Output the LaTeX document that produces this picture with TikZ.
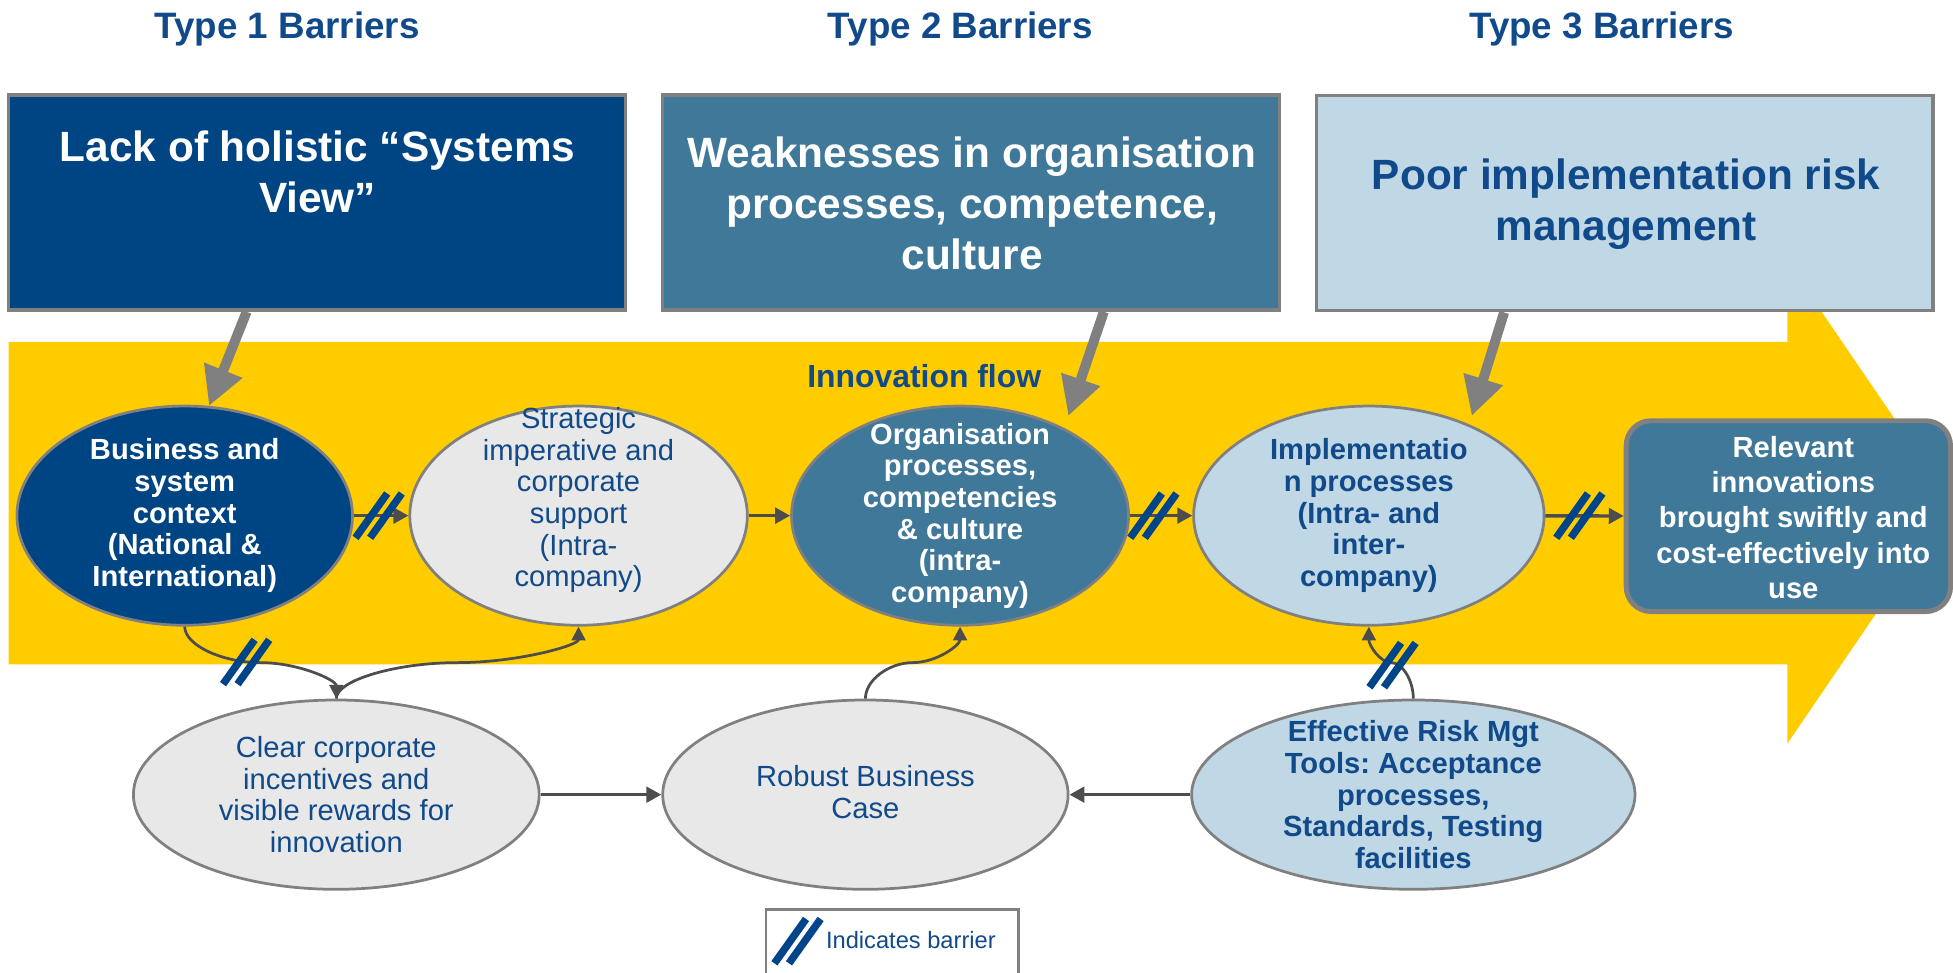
\documentclass[tikz,border=0pt]{standalone}
\usepackage{fontspec}
\setmainfont{Liberation Sans}
\usetikzlibrary{shapes.geometric,arrows.meta,calc}
\frenchspacing

\definecolor{flowyellow}{HTML}{FFCC00}
\definecolor{navy}{HTML}{004583}
\definecolor{steel}{HTML}{3F7898}
\definecolor{pale}{HTML}{C0D7E5}
\definecolor{mist}{HTML}{E8E8E8}
\definecolor{rim}{HTML}{808080}
\definecolor{ink}{HTML}{104A8A}
\definecolor{wire}{HTML}{4D4D4D}
\definecolor{markblue}{HTML}{00458A}

\tikzset{
  bigbox/.style={rectangle, draw=rim, line width=2.7pt, minimum width=495pt,
    minimum height=172.7pt, inner sep=0pt},
  oval/.style={ellipse, draw=rim, line width=2.2pt, inner sep=0pt, minimum height=176pt},
  result/.style={rectangle, rounded corners=20pt, draw=rim, line width=4pt, fill=steel,
    minimum width=260.4pt, minimum height=153.2pt, inner sep=0pt},
  headtext/.style={align=center, inner sep=0pt, font=\fontsize{34}{41}\selectfont\bfseries},
  titletext/.style={inner sep=0pt, text=ink, font=\fontsize{29.5}{35}\selectfont\bfseries},
  flowtext/.style={inner sep=0pt, text=ink, font=\fontsize{25.6}{30}\selectfont\bfseries},
  bodytext/.style={align=center, inner sep=0pt, font=\fontsize{23.4}{25.4}\selectfont},
  bodybold/.style={align=center, inner sep=0pt, font=\fontsize{23.4}{25.4}\selectfont\bfseries},
  resulttext/.style={align=center, inner sep=0pt, text=white,
    font=\fontsize{23.4}{28.3}\selectfont\bfseries},
  legendbox/.style={rectangle, draw=rim, line width=2.2pt, minimum width=202.5pt,
    minimum height=80pt, inner sep=0pt},
  legendtext/.style={inner sep=0pt, text=ink, font=\fontsize{19}{23}\selectfont},
  flowline/.style={draw=wire, line width=2.7pt, -{Triangle[length=12pt,width=12.5pt]}},
  curveline/.style={draw=wire, line width=2.2pt, -{Triangle[length=11pt,width=11pt]}},
  blockarrow/.style={draw=rim, line width=8pt, -{Triangle[length=31pt,width=31pt]}},
  barline/.style={draw=markblue, line width=6pt},
  barrier/.pic={
    \draw[barline] (-18.55,17.8) -- (6.85,-17.8);
    \draw[barline] (-6.85,17.8) -- (18.55,-17.8);
  }
}

\begin{document}
\begin{tikzpicture}[x=1pt,y=-1pt]
\useasboundingbox (0,0) rectangle (1568,781);

% the broad yellow flow arrow
\fill[flowyellow] (7,274.5) -- (1435,274.5) -- (1435,210) -- (1567,403.5)
  -- (1435,597) -- (1435,533.3) -- (7,533.3) -- cycle;

% barrier type headings
\node[titletext] (ty1) at (230.5,23) {Type 1 Barriers};
\node[titletext] (ty2) at (771,23) {Type 2 Barriers};
\node[titletext] (ty3) at (1286,23) {Type 3 Barriers};

% barrier boxes
\node[bigbox, fill=navy] (box1) at (254.5,162.65) {};
\node[bigbox, fill=steel] (box2) at (779.5,162.65) {};
\node[bigbox, fill=pale] (box3) at (1304.5,163.15) {};
\node[headtext, text=white] (h1) at (255,138) {Lack of holistic “Systems\\View”};
\node[headtext, text=white] (h2) at (780.5,163) {Weaknesses in organisation\\processes, competence,\\culture};
\node[headtext, text=ink] (h3) at (1305.5,164) {Poor implementation risk\\management};

\node[flowtext] (flow) at (742,302) {Innovation flow};

% main flow stages
\node[oval, fill=navy, minimum width=269.4pt] (e1) at (148.3,414) {};
\node[oval, fill=mist, minimum width=271pt] (e2) at (464.5,414) {};
\node[oval, fill=steel, minimum width=270.6pt] (e3) at (770.8,414) {};
\node[oval, fill=pale, minimum width=281.4pt] (e4) at (1099,414) {};
\node[result] (goal) at (1435.8,414.4) {};

% supporting factors
\node[oval, fill=mist, minimum width=325.8pt, minimum height=152pt] (b1) at (270,638) {};
\node[oval, fill=mist, minimum width=325.5pt, minimum height=152pt] (b2) at (694.8,638) {};
\node[oval, fill=pale, minimum width=356pt, minimum height=152pt] (b3) at (1134.7,638) {};

% grey arrows from the barrier boxes
\draw[blockarrow] ($(box1.south)+(-56.5,0)$) -- ($(e1.center)+(19.5,-88)$);
\draw[blockarrow] ($(box2.south)+(106.7,0)$) -- ($(e3.center)+(86.9,-80)$);
\draw[blockarrow] ($(box3.south)+(-96.9,0)$) -- ($(e4.center)+(82.6,-80)$);

% straight connectors
\draw[flowline] (e1) -- (e2);
\draw[flowline] (e2) -- (e3);
\draw[flowline] (e3) -- (e4);
\draw[flowline] (e4) -- (goal);
\draw[flowline] (b1) -- (b2);
\draw[flowline] (b3) -- (b2);

% curved connectors
\draw[curveline] (e1.south) .. controls +(0,15) and +(-30.4,0) .. ($(e1.south)!0.5!(b1.north)$)
  .. controls +(30.4,0) and +(0,-15) .. (b1.north);
\draw[curveline] (b1.north) .. controls +(0,-15) and +(-48.6,0) .. ($(b1.north)!0.5!(e2.south)$)
  .. controls +(48.6,0) and +(0,15) .. (e2.south);
\draw[curveline] (b2.north) .. controls +(0,-15) and +(-19,0) .. ($(b2.north)!0.5!(e3.south)$)
  .. controls +(19,0) and +(0,15) .. (e3.south);
\draw[curveline] (b3.north) .. controls +(0,-15) and +(8.9,0) .. ($(b3.north)!0.5!(e4.south)$)
  .. controls +(-8.9,0) and +(0,15) .. (e4.south);

% barrier marks
\pic at (304,414) {barrier};
\pic at (926,414) {barrier};
\pic at (1268,414) {barrier};
\pic at (197.6,531.5) {barrier};
\pic at (1118,534) {barrier};

% stage texts
\node[bodybold, text=white] (t1) at (e1) {Business and\\system\\context\\(National \&\\International)};
\node[bodytext, text=ink] (t2) at ($(e2)+(0,-12.5)$) {Strategic\\imperative and\\corporate\\support\\(Intra-\\company)};
\node[bodybold, text=white] (t3) at (e3) {Organisation\\processes,\\competencies\\\& culture\\(intra-\\company)};
\node[bodybold, text=ink] (t4) at (e4) {Implementatio\\n processes\\(Intra- and\\inter-\\company)};
\node[resulttext] (tgoal) at ($(goal)+(4,1)$) {Relevant\\innovations\\brought swiftly and\\cost-effectively into\\use};
\node[bodytext, text=ink] (tb1) at (b1) {Clear corporate\\incentives and\\visible rewards for\\innovation};
\node[bodytext, text=ink] (tb2) at ($(b2)+(0,-2)$) {Robust Business\\Case};
\node[bodybold, text=ink] (tb3) at (b3) {Effective Risk Mgt\\Tools: Acceptance\\processes,\\Standards, Testing\\facilities};

% legend
\node[legendbox] (legend) at (716.25,770) {};
\pic at (640.3,755.6) {barrier};
\node[legendtext, anchor=west] (legtext) at (663,755) {Indicates barrier};
\end{tikzpicture}
\end{document}
